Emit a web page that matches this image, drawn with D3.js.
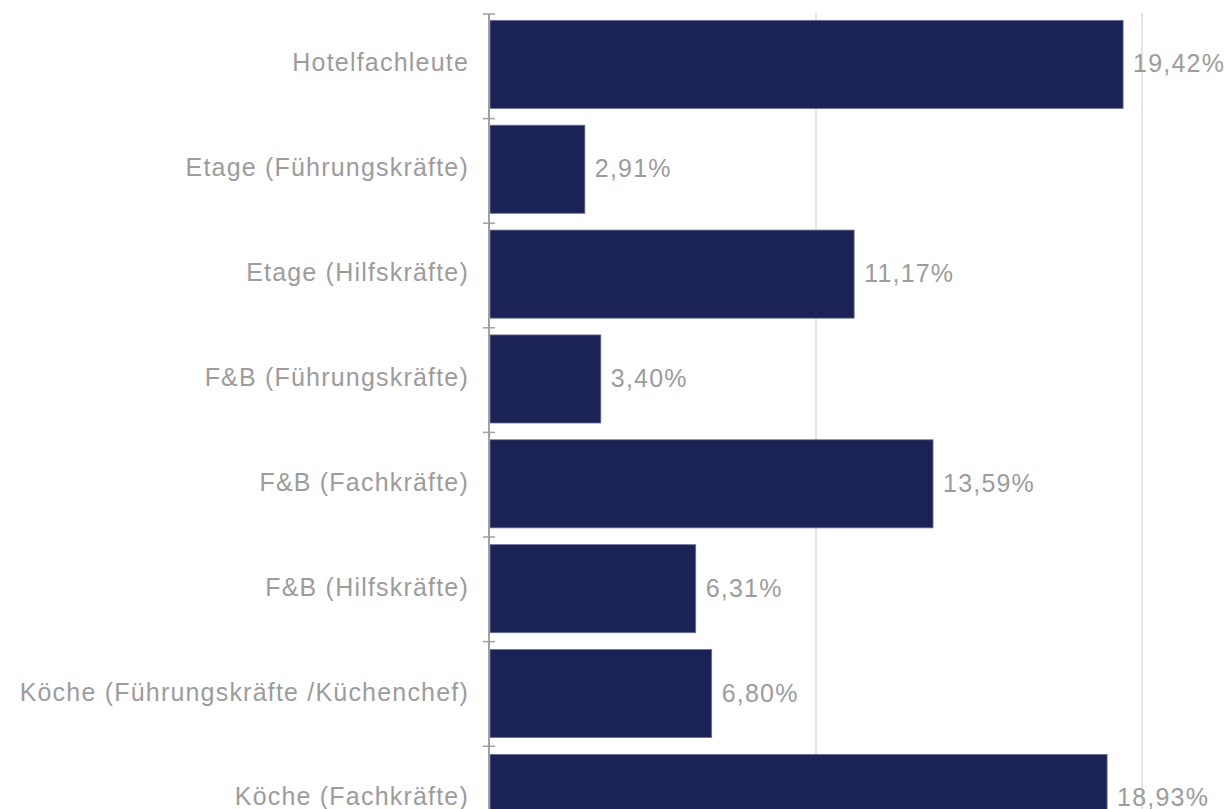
<html>
  <head>
    <script src="https://d3js.org/d3.v7.min.js"></script>
    <style>
      body {
        margin: 0;
        background: #fff;
      }
      text {
        font-family: "Liberation Sans", Arial, sans-serif;
        letter-spacing: 1.2px;
      }
    </style>
  </head>
  <body>
    <svg id="chart" width="1229" height="809"></svg>
    <script>
      // categories and values (percent), top to bottom
      const categories = [
        "Hotelfachleute",
        "Etage (Führungskräfte)",
        "Etage (Hilfskräfte)",
        "F&B (Führungskräfte)",
        "F&B (Fachkräfte)",
        "F&B (Hilfskräfte)",
        "Köche (Führungskräfte /Küchenchef)",
        "Köche (Fachkräfte)"
      ];
      const values = [19.42, 2.91, 11.17, 3.4, 13.59, 6.31, 6.8, 18.93];
      const gridTicks = [10, 20];

      const data = categories.map((c, i) => ({ cat: c, val: values[i] }));

      const svg = d3.select("svg#chart");

      const plotLeft = 490;
      const plotTop = 14;
      const step = 104.6;

      const xScale = d3.scaleLinear().domain([0, 20]).range([plotLeft, 1142]);

      // the chart runs past the bottom of the window, so range goes below 809
      const yScale = d3
        .scaleBand()
        .domain(categories)
        .range([plotTop - 1, plotTop - 1 + step * categories.length])
        .paddingInner(0.16)
        .paddingOuter(0.07);

      // gridlines
      svg
        .append("g")
        .selectAll("line")
        .data(gridTicks)
        .join("line")
        .attr("x1", (d) => xScale(d))
        .attr("x2", (d) => xScale(d))
        .attr("y1", plotTop - 1)
        .attr("y2", 809)
        .attr("stroke", "#dcdcdc")
        .attr("stroke-width", 1.5);

      // bars
      svg
        .append("g")
        .selectAll("rect")
        .data(data)
        .join("rect")
        .attr("x", xScale(0))
        .attr("y", (d) => yScale(d.cat))
        .attr("width", (d) => xScale(d.val) - xScale(0))
        .attr("height", yScale.bandwidth())
        .attr("fill", "#1b2356")
        .attr("stroke", "#6b7196")
        .attr("stroke-width", 0.8);

      // value labels
      svg
        .append("g")
        .selectAll("text")
        .data(data)
        .join("text")
        .attr("x", (d) => xScale(d.val) + 10)
        .attr("y", (d) => yScale(d.cat) + yScale.bandwidth() / 2 - 1)
        .attr("dy", "0.36em")
        .attr("fill", "#9c9c9c")
        .style("font-size", "25px")
        .text((d) => d.val.toFixed(2).replace(".", ",") + "%");

      // category axis: line, ticks at band edges, labels
      const axis = svg.append("g");
      const edges = d3.range(categories.length + 1).map((i) => plotTop + i * step);

      axis
        .append("line")
        .attr("x1", plotLeft - 1)
        .attr("x2", plotLeft - 1)
        .attr("y1", plotTop)
        .attr("y2", 809)
        .attr("stroke", "#a0a0a0")
        .attr("stroke-width", 2);

      axis
        .selectAll("line.tick")
        .data(edges)
        .join("line")
        .attr("class", "tick")
        .attr("x1", plotLeft - 7)
        .attr("x2", plotLeft + 5)
        .attr("y1", (d) => d)
        .attr("y2", (d) => d)
        .attr("stroke", "#a0a0a0")
        .attr("stroke-width", 1.5);

      axis
        .selectAll("text")
        .data(categories)
        .join("text")
        .attr("x", plotLeft - 21)
        .attr("y", (d) => yScale(d) + yScale.bandwidth() / 2 - 2)
        .attr("dy", "0.36em")
        .attr("text-anchor", "end")
        .attr("fill", "#9c9c9c")
        .style("font-size", "25px")
        .text((d) => d);
    </script>
  </body>
</html>
